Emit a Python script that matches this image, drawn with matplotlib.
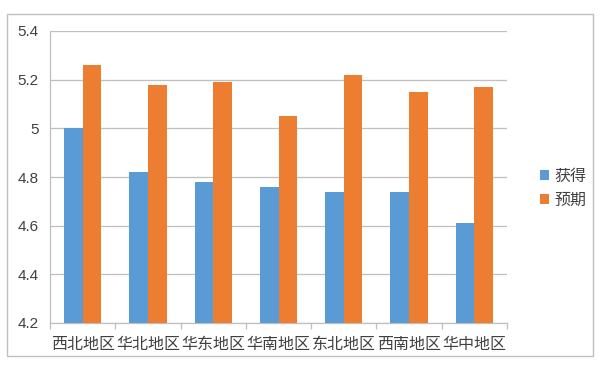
import numpy as np
import matplotlib.pyplot as plt
from matplotlib.patches import Rectangle

plt.rcParams['font.family'] = ['Noto Sans CJK SC', 'DejaVu Sans']

# data
regions = ['西北地区', '华北地区', '华东地区', '华南地区', '东北地区', '西南地区', '华中地区']
obtained = [5.00, 4.82, 4.78, 4.76, 4.74, 4.74, 4.61]
expected = [5.26, 5.18, 5.19, 5.05, 5.22, 5.15, 5.17]
series_names = ['获得', '预期']
y_ticks = [4.2, 4.4, 4.6, 4.8, 5.0, 5.2, 5.4]
y_tick_labels = ['4.2', '4.4', '4.6', '4.8', '5', '5.2', '5.4']

blue = '#5B9BD5'
orange = '#ED7D31'
grid_col = '#BFBFBF'
text_col = '#404040'

fig = plt.figure(figsize=(6, 3.73), dpi=100)
ax = fig.add_axes([50 / 600, 1 - 323 / 373, 457 / 600, 292 / 373])

# outer chart border
fig.patches.append(Rectangle((7 / 600, 1 - 356 / 373), 586 / 600, 342 / 373,
                             transform=fig.transFigure, fill=False,
                             edgecolor='#BFBFBF', linewidth=1.0))

x = np.arange(len(regions))
w = 0.285
ax.bar(x - w / 2, obtained, w, color=blue, label=series_names[0], zorder=3)
ax.bar(x + w / 2, expected, w, color=orange, label=series_names[1], zorder=3)

ax.set_xlim(-0.5, len(regions) - 0.5)
ax.set_ylim(4.2, 5.4)
ax.set_yticks(y_ticks)
ax.set_yticklabels(y_tick_labels, fontsize=11, color=text_col, family='Liberation Sans')
ax.yaxis.grid(True, color=grid_col, linewidth=0.9, zorder=0)
ax.tick_params(axis='y', length=0, pad=8)

ax.set_xticks(x)
ax.set_xticklabels(regions, fontsize=11.5, color=text_col)
ax.set_xticks(np.arange(-0.5, len(regions)), minor=True)
ax.tick_params(axis='x', which='major', length=0, pad=9)
ax.tick_params(axis='x', which='minor', length=4, color=grid_col, width=0.9)

for side in ['top', 'right']:
    ax.spines[side].set_visible(False)
for side in ['left', 'bottom']:
    ax.spines[side].set_color(grid_col)
    ax.spines[side].set_linewidth(0.9)

fig.legend(loc='center left', bbox_to_anchor=(526 / 600, 1 - 188 / 373),
           frameon=False, fontsize=11.5, handlelength=0.55, handleheight=0.55,
           handletextpad=0.3, labelspacing=0.45, labelcolor=text_col)

fig.savefig('out.png', dpi=100)
